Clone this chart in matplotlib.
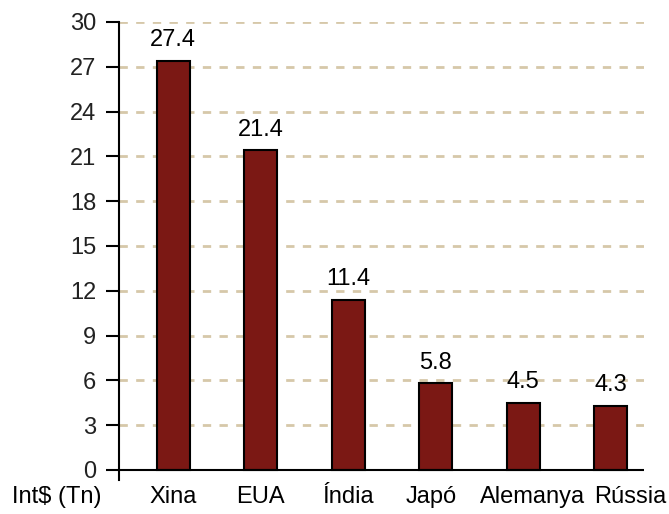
import matplotlib.pyplot as plt
from matplotlib.transforms import blended_transform_factory, offset_copy

plt.rcParams['font.family'] = ['Liberation Sans', 'DejaVu Sans']

countries = ["Xina", "EUA", "Índia", "Japó", "Alemanya", "Rússia"]
gdp_ppp = [27.4, 21.4, 11.4, 5.8, 4.5, 4.3]
yticks = [0, 3, 6, 9, 12, 15, 18, 21, 24, 27, 30]

bar_color = "#7b1814"
grid_color = "#d6c8a9"
fs = 17
# horizontal nudge (points) so the long names at the right don't collide
name_shift = [0, 0, 0, -3, 7, 14]

fig = plt.figure(figsize=(6.69, 5.14), dpi=100)
ax = fig.add_axes([119 / 669, 1 - 480 / 514, (644 - 119) / 669, (480 - 22) / 514])

x = list(range(len(countries)))
bars = ax.bar(x, gdp_ppp, width=0.38, color=bar_color, edgecolor="black",
              linewidth=1.5, zorder=3)

for b, v in zip(bars, gdp_ppp):
    ax.annotate(f"{v}", (b.get_x() + b.get_width() / 2, v),
                xytext=(0, 7), textcoords="offset points",
                ha="center", va="bottom", fontsize=fs)

# y range goes a little below 0 so the left spine pokes under the baseline
ymin = -30 * 10 / 448
ax.set_ylim(ymin, 30)
ax.set_xlim(-0.62, 5.38)

ax.set_yticks(yticks)
ax.set_yticklabels([str(t) for t in yticks], fontsize=fs, color="#222222")
ax.tick_params(axis="y", direction="out", length=9.5, width=1.5, pad=7)
ax.set_xticks([])

for t in yticks[1:]:
    ax.axhline(t, color=grid_color, linestyle=(0, (3, 3)), linewidth=2, zorder=1)
ax.axhline(0, color="black", linewidth=1.5, zorder=4)

for side in ("top", "right", "bottom"):
    ax.spines[side].set_visible(False)
ax.spines["left"].set_linewidth(1.5)

# category names and the unit label share one row under the axis
label_y = 1 - 486 / 514
trans = blended_transform_factory(ax.transData, fig.transFigure)
for xi, name, dx in zip(x, countries, name_shift):
    ax.text(xi, label_y, name, ha="center", va="top", fontsize=fs,
            transform=offset_copy(trans, fig=fig, x=dx, units="points"))
fig.text(12 / 669, label_y, "Int$ (Tn)", ha="left", va="top", fontsize=fs)

fig.savefig("out.png", dpi=100)
